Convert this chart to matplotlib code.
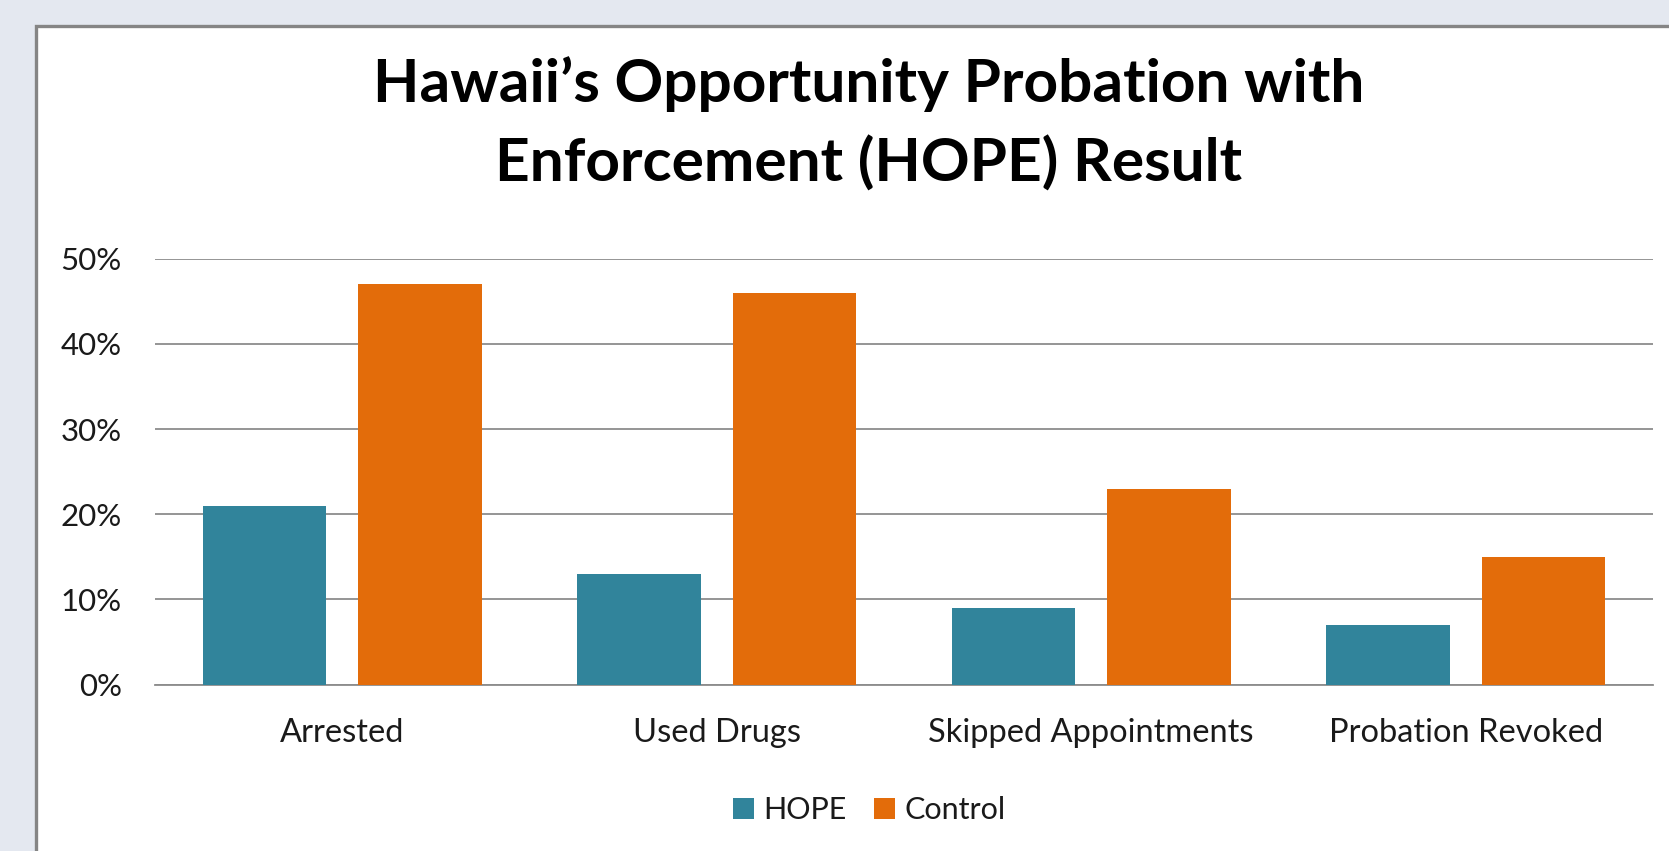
import matplotlib
matplotlib.use("Agg")
import matplotlib.pyplot as plt
from matplotlib.patches import Rectangle
from matplotlib.ticker import FuncFormatter
import numpy as np

categories = ["Arrested", "Used Drugs", "Skipped Appointments", "Probation Revoked"]
hope = [21, 13, 9, 7]
control = [47, 46, 23, 15]
series_names = ["HOPE", "Control"]
yticks = [0, 10, 20, 30, 40, 50]
title = "Hawaii\u2019s Opportunity Probation with\nEnforcement (HOPE) Result"

plt.rcParams['font.family'] = ['Lato', 'DejaVu Sans']

W, H = 1669, 851
fig = plt.figure(figsize=(W / 100, H / 100), dpi=100)
fig.patch.set_facecolor('#e4e8f0')

# white panel with gray border
panel = Rectangle((36 / W, -0.1), 1.2, 1 - 26 / H + 0.1, transform=fig.transFigure,
                  facecolor='white', edgecolor='#858585', linewidth=2.4, zorder=-10)
fig.patches.append(panel)

left, right = 155, 1653
top, bottom = 258.7, 684.5
ax = fig.add_axes([left / W, 1 - bottom / H, (right - left) / W, (bottom - top) / H])
ax.set_facecolor('none')

x = np.arange(len(categories))
bw = 0.331
off = 0.2076
ax.bar(x - off, hope, bw, color='#31849B', label=series_names[0], zorder=3)
ax.bar(x + off, control, bw, color='#E36C0A', label=series_names[1], zorder=3)

ax.set_xlim(-0.5, len(categories) - 0.5)
ax.set_ylim(0, 50)
ax.set_yticks(yticks)
ax.yaxis.set_major_formatter(FuncFormatter(lambda v, p: f"{int(v)}%"))
ax.set_xticks(x)
ax.set_xticklabels(categories)
ax.grid(axis='y', color='#8c8c8c', linewidth=1.3, zorder=1)
for s in ['top', 'right', 'left']:
    ax.spines[s].set_visible(False)
ax.spines['bottom'].set_color('#8c8c8c')
ax.spines['bottom'].set_linewidth(1.3)
ax.tick_params(axis='both', length=0, colors='#1a1a1a')
ax.tick_params(axis='y', pad=24, labelsize=22.5)
ax.tick_params(axis='x', pad=24, labelsize=23.5)

fig.text(869 / W, 1 - 124 / H, title, ha='center', va='center',
         fontsize=43.5, fontweight='bold', color='black', linespacing=1.5)

leg = fig.legend(loc='center', bbox_to_anchor=(869 / W, 1 - 810 / H), ncol=2, frameon=False,
                 fontsize=22, handlelength=0.7, handleheight=0.7, handletextpad=0.3,
                 columnspacing=0.9)
for t in leg.get_texts():
    t.set_color('#1a1a1a')

fig.savefig('out.png', dpi=100, facecolor=fig.get_facecolor())
